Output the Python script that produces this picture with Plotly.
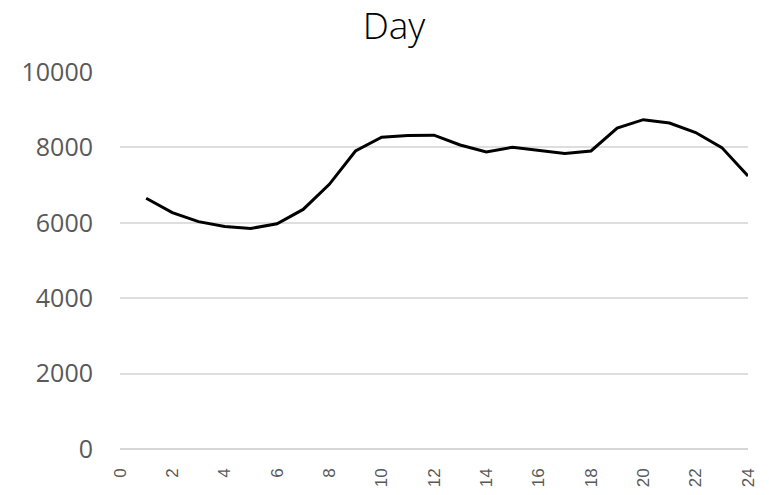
import plotly.graph_objects as go

# Hourly profile over one day
hours = list(range(1, 25))
values = [6650, 6270, 6030, 5900, 5850, 5975, 6355, 7020, 7905, 8270,
          8315, 8325, 8065, 7880, 8005, 7915, 7840, 7905, 8510, 8735,
          8645, 8395, 7995, 7240]

x_ticks = list(range(0, 25, 2))
y_ticks = [0, 2000, 4000, 6000, 8000, 10000]

fig = go.Figure()
fig.add_trace(go.Scatter(
    x=hours, y=values, mode="lines",
    line=dict(color="#000000", width=3),
    showlegend=False, hoverinfo="x+y",
))

fig.update_layout(
    width=769, height=495,
    margin=dict(l=120, r=21, t=72, b=46),
    paper_bgcolor="white", plot_bgcolor="white",
    title=dict(
        text="Day",
        x=394 / 769, xanchor="center", xref="container",
        y=1 - 26 / 495, yanchor="middle", yref="container",
        font=dict(family="Open Sans", size=37, color="#000000", weight=300),
    ),
    xaxis=dict(
        range=[0, 24], tickmode="array", tickvals=x_ticks,
        ticktext=[str(v) for v in x_ticks], tickangle=-90,
        showgrid=False, zeroline=False, showline=False, ticks="",
        tickfont=dict(family="Arial", size=17, color="#595959"),
        ticklabelstandoff=15, automargin=False,
    ),
    yaxis=dict(
        range=[0, 10000], tickmode="array", tickvals=y_ticks,
        ticktext=[str(v) for v in y_ticks],
        showgrid=True, gridcolor="#dedede", gridwidth=1.6,
        zeroline=True, zerolinecolor="#d6d6d6", zerolinewidth=1.6,
        showline=False, ticks="",
        tickfont=dict(family="Open Sans", size=25, color="#595959"),
        ticklabelstandoff=26, automargin=False,
    ),
)

fig.write_html("out.html")
